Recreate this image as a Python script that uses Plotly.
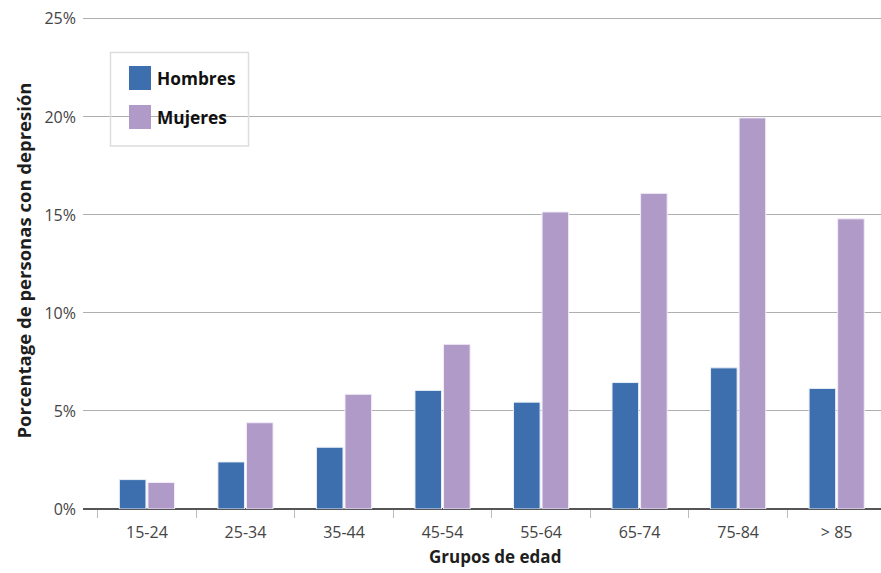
import plotly.graph_objects as go

categorias = ["15-24", "25-34", "35-44", "45-54", "55-64", "65-74", "75-84", "> 85"]
hombres = [1.5, 2.4, 3.15, 6.05, 5.45, 6.45, 7.2, 6.15]
mujeres = [1.35, 4.4, 5.85, 8.4, 15.15, 16.1, 19.95, 14.8]
y_ticks = [0, 5, 10, 15, 20, 25]
y_tick_text = ["0%", "5%", "10%", "15%", "20%", "25%"]

COL_H = "#3D6FAE"
COL_M = "#B09AC8"
FONT = "Open Sans"

fig = go.Figure()
fig.add_trace(go.Bar(name="Hombres", x=categorias, y=hombres,
                     marker=dict(color=COL_H, line=dict(color="#E8EEF6", width=1)),
                     showlegend=False))
fig.add_trace(go.Bar(name="Mujeres", x=categorias, y=mujeres,
                     marker=dict(color=COL_M, line=dict(color="#F1ECF6", width=1)),
                     showlegend=False))

fig.update_layout(
    width=881, height=573,
    margin=dict(l=83, r=0, t=13, b=64),
    paper_bgcolor="white", plot_bgcolor="white",
    barmode="group", bargap=0.42, bargroupgap=0.07,
    font=dict(family=FONT, color="#444444", size=16),
    xaxis=dict(
        type="category", range=[-0.649, 7.45],
        tickson="boundaries", ticks="outside", ticklen=8, tickwidth=1,
        tickcolor="#BBBBBB", showgrid=False, showline=False, zeroline=False,
        ticklabelstandoff=12,
        tickfont=dict(family=FONT, size=16, color="#444444"),
    ),
    yaxis=dict(
        range=[0, 25.3], tickvals=y_ticks, ticktext=y_tick_text,
        showgrid=True, gridcolor="#AFAFAF", gridwidth=1,
        zeroline=True, zerolinecolor="#555555", zerolinewidth=2,
        showline=False, ticks="", ticklabelstandoff=6,
        tickfont=dict(family=FONT, size=16, color="#444444"),
    ),
)

PLOT_H = 573 - 13 - 64

def px_x(p):
    return (p - 83) / 798

def px_y(p):
    return (509 - p) / PLOT_H

# axis titles
fig.add_annotation(text="<b>Porcentage de personas con depresión</b>",
                   xref="paper", yref="paper", x=px_x(22.5), y=px_y(261),
                   xanchor="center", yanchor="middle", textangle=-90,
                   showarrow=False, font=dict(family=FONT, size=18.5, color="#1E1E1E"))
fig.add_annotation(text="<b>Grupos de edad</b>",
                   xref="paper", yref="paper", x=px_x(494.5), y=px_y(556),
                   xanchor="center", yanchor="middle",
                   showarrow=False, font=dict(family=FONT, size=17, color="#1E1E1E"))

# custom legend (box, swatches, labels)
fig.add_shape(type="rect", xref="paper", yref="paper",
              x0=px_x(110.5), x1=px_x(248.5), y0=px_y(146), y1=px_y(52.5),
              line=dict(color="#DDDDDD", width=1.5), fillcolor="rgba(255,255,255,0)")
for name, col, yc in [("Hombres", COL_H, 78), ("Mujeres", COL_M, 117)]:
    fig.add_shape(type="rect", xref="paper", yref="paper",
                  x0=px_x(129), x1=px_x(151), y0=px_y(yc + 12), y1=px_y(yc - 12),
                  line=dict(width=0), fillcolor=col)
    fig.add_annotation(text="<b>" + name + "</b>", xref="paper", yref="paper",
                       x=px_x(155), y=px_y(yc), xanchor="left", yanchor="middle",
                       showarrow=False, font=dict(family=FONT, size=17.3, color="#111111"))

fig.write_html("out.html")
